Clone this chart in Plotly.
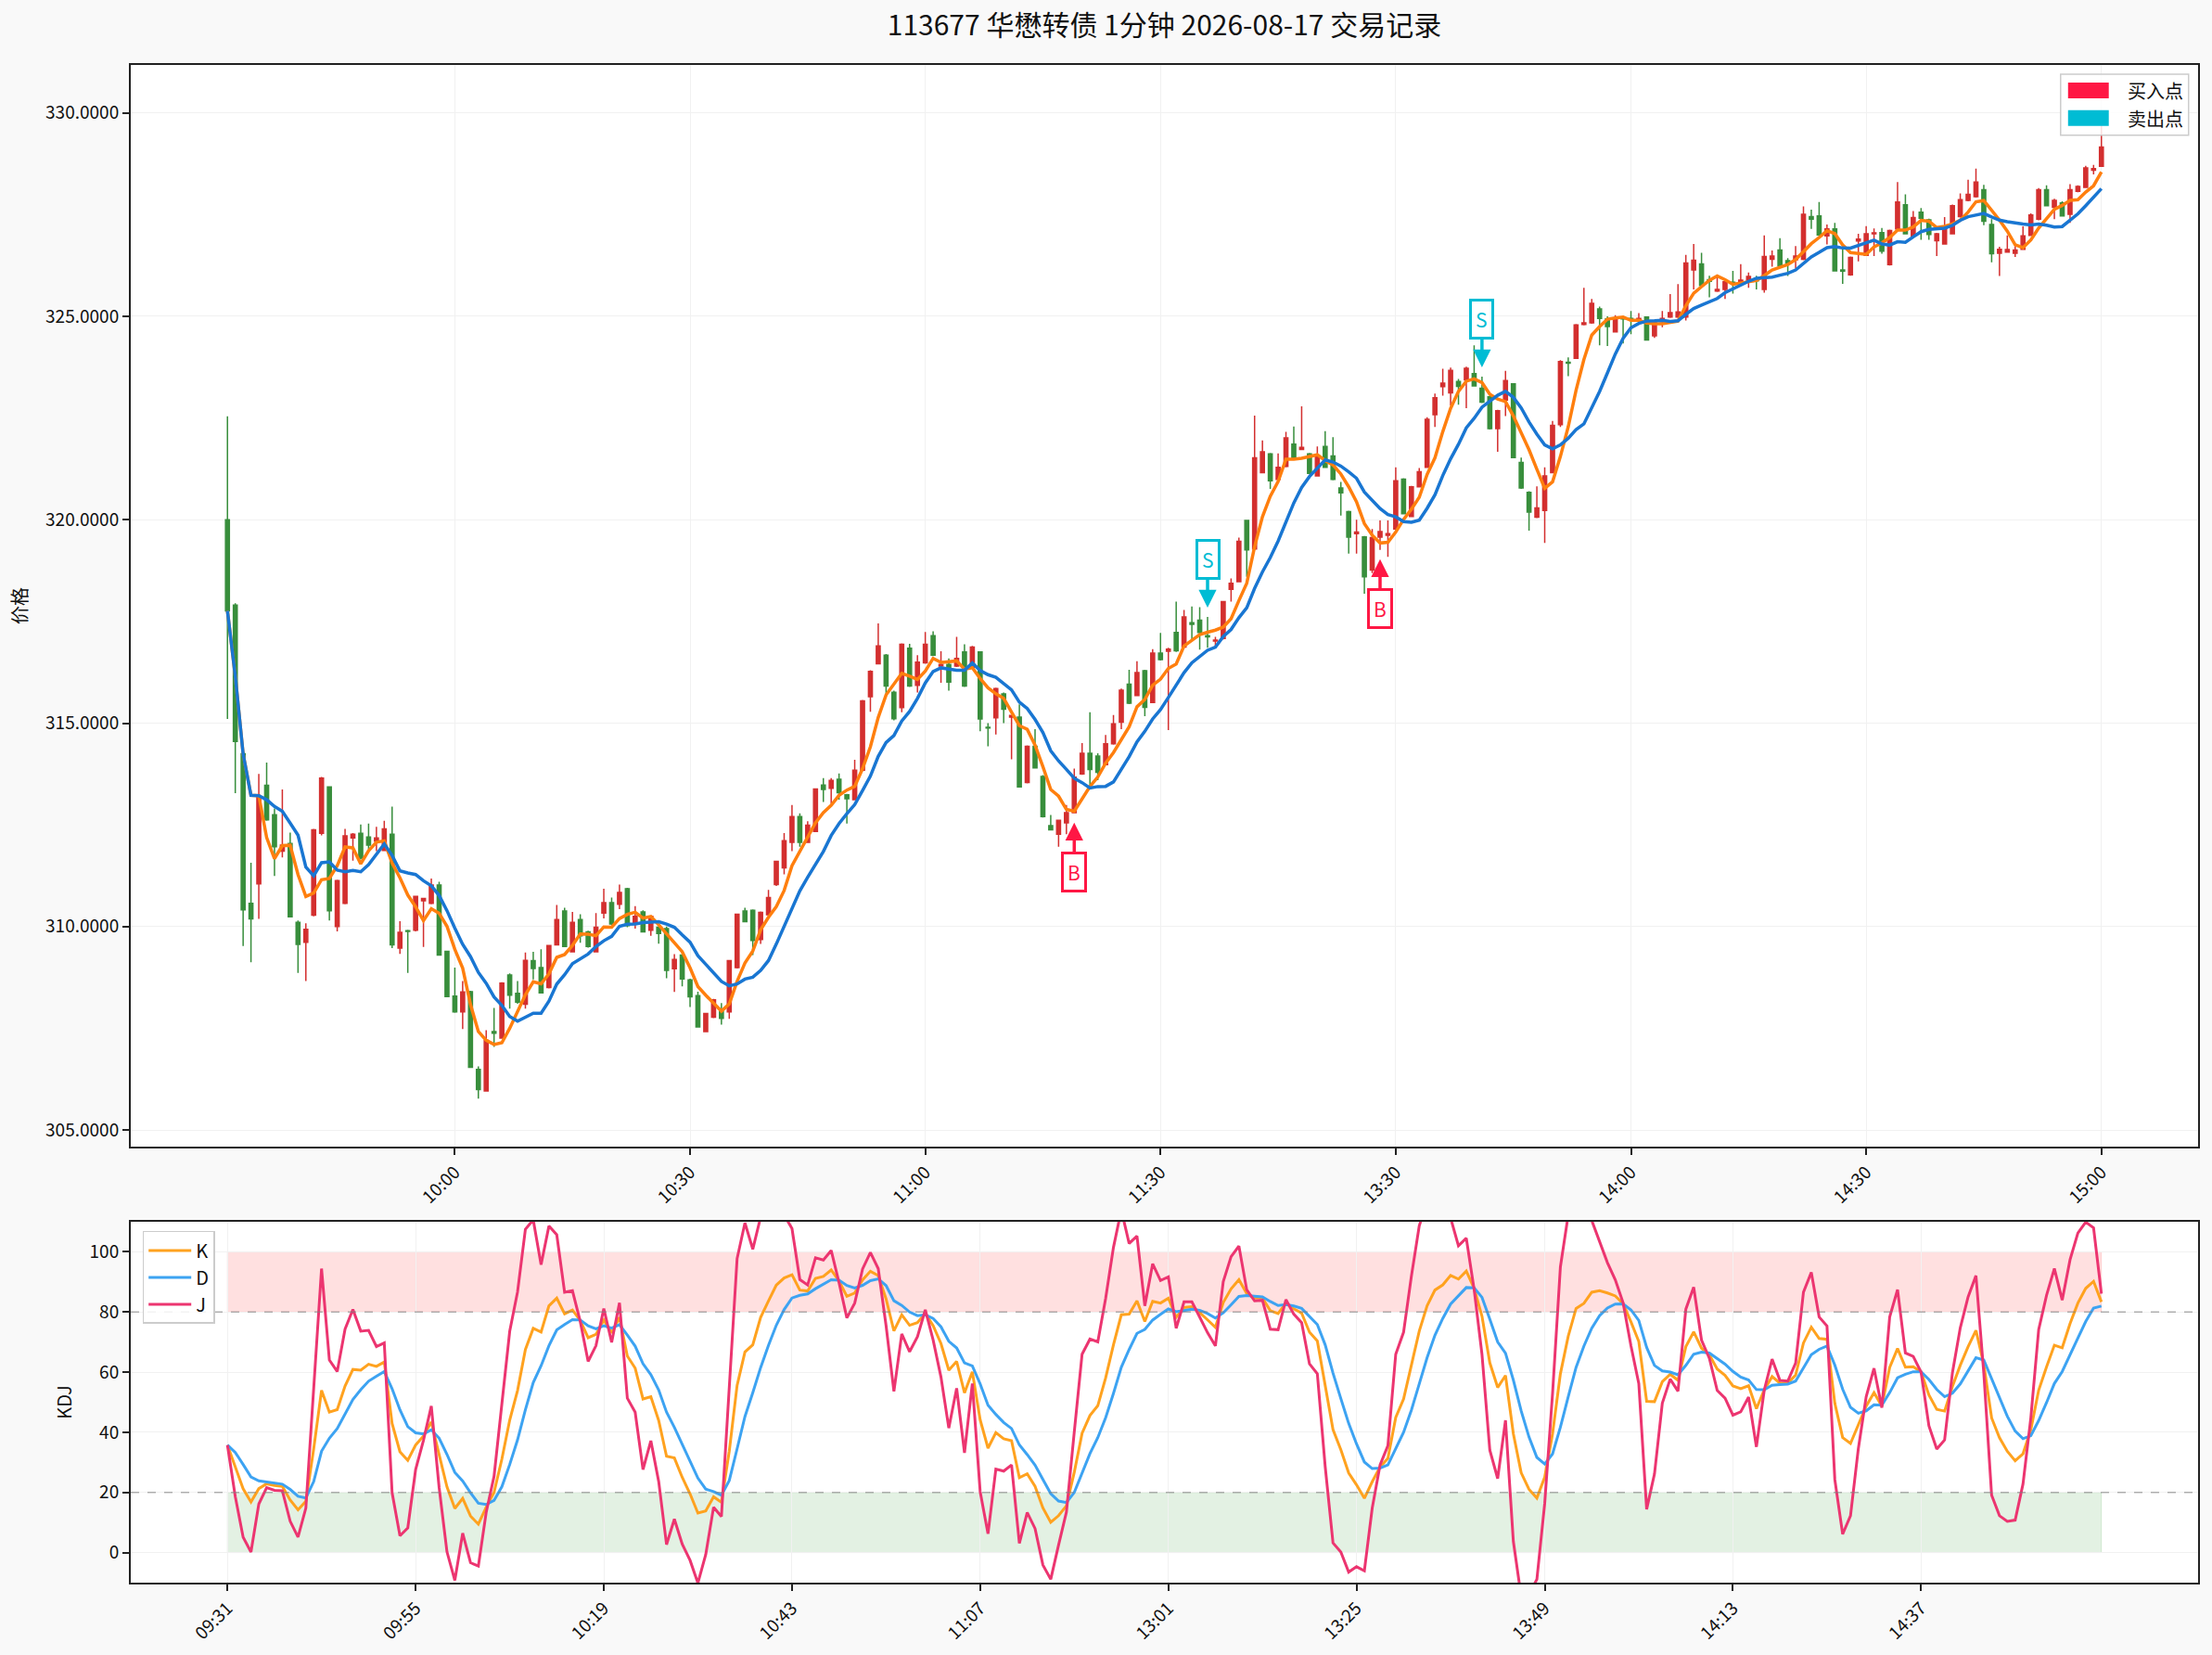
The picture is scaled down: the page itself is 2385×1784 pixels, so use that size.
import pandas as pd
import plotly.graph_objects as go
from plotly.subplots import make_subplots

title = "113677 华懋转债 1分钟 2026-08-17 交易记录"

# 1-minute bars (09:31-11:30, 13:01-15:00)
opens = [
    320.00, 317.90, 314.25, 310.57, 311.05, 313.47, 312.75, 311.85, 312.04, 310.10,
    309.61, 310.28, 312.29, 313.43, 310.00, 310.57, 312.18, 312.29, 312.20, 312.10,
    311.87, 312.27, 309.47, 309.90, 309.91, 310.63, 310.57, 311.02, 309.39, 308.29,
    307.90, 308.40, 306.49, 305.96, 307.42, 307.26, 308.81, 308.36, 308.09, 309.16,
    308.99, 308.50, 309.55, 310.38, 309.38, 310.17, 309.87, 309.38, 310.33, 310.59,
    310.55, 310.93, 310.06, 310.36, 309.91, 309.98, 309.95, 308.96, 309.30, 308.69,
    308.30, 307.42, 307.77, 307.91, 307.90, 308.99, 310.38, 310.40, 309.68, 310.29,
    311.03, 311.44, 312.07, 312.70, 312.07, 312.34, 313.48, 313.40, 313.62, 313.24,
    313.12, 313.84, 315.65, 316.46, 316.67, 315.76, 315.38, 316.84, 315.93, 316.48,
    317.15, 316.40, 316.44, 316.40, 316.75, 316.37, 316.75, 314.90, 315.13, 315.72,
    315.15, 315.15, 313.54, 314.43, 313.69, 312.48, 312.27, 312.55, 312.80, 313.75,
    314.26, 314.19, 313.98, 314.49, 315.02, 315.96, 315.68, 316.29, 315.51, 316.72,
    316.77, 317.23, 316.87, 317.47, 317.53, 317.15, 317.02, 317.08, 318.29, 318.48,
    319.98, 319.28, 321.16, 321.62, 320.99, 321.31, 321.86, 321.73, 321.62, 321.08,
    321.80, 321.57, 320.78, 320.20, 319.66, 319.58, 318.76, 319.57, 319.62, 319.77,
    321.00, 320.08, 320.81, 321.29, 322.58, 323.27, 323.12, 323.40, 323.44, 323.59,
    323.23, 323.02, 322.24, 322.94, 323.34, 321.41, 320.67, 320.06, 320.23, 321.16,
    322.34, 323.87, 323.97, 324.80, 324.84, 325.18, 324.94, 324.62, 324.96, 324.95,
    324.90, 324.98, 324.52, 324.87, 324.98, 324.98, 324.98, 326.14, 326.29, 325.90,
    325.62, 325.66, 325.84, 325.81, 325.85, 325.93, 325.66, 326.40, 326.63, 326.37,
    326.39, 326.40, 327.45, 327.47, 326.98, 327.15, 326.14, 326.02, 326.85, 326.50,
    327.03, 327.06, 326.27, 327.15, 327.74, 326.98, 327.56, 327.37, 326.86, 326.78,
    327.03, 327.45, 327.85, 327.94, 328.11, 327.26, 326.55, 326.58, 326.55, 326.65,
    326.99, 327.39, 328.11, 327.68, 327.79, 327.51, 328.07, 328.17, 328.59, 328.69,
]
highs = [
    322.54, 317.95, 314.25, 311.57, 313.75, 314.03, 312.90, 313.37, 312.31, 310.15,
    310.08, 312.40, 313.68, 313.45, 311.15, 312.40, 312.30, 312.51, 312.53, 312.45,
    312.60, 312.95, 310.13, 309.92, 310.76, 310.70, 311.18, 311.10, 309.40, 308.99,
    308.66, 308.42, 306.56, 307.45, 308.00, 308.63, 308.85, 308.66, 309.36, 309.38,
    309.44, 309.55, 310.53, 310.46, 310.36, 310.30, 309.90, 310.33, 310.93, 310.71,
    311.03, 310.95, 310.50, 310.40, 310.27, 310.00, 310.00, 309.32, 309.32, 308.72,
    308.40, 307.88, 308.22, 308.12, 309.18, 310.32, 310.46, 310.42, 310.37, 310.90,
    311.62, 312.30, 312.99, 312.78, 312.59, 313.40, 313.65, 313.65, 313.76, 313.26,
    314.10, 315.57, 316.30, 317.45, 316.70, 315.80, 316.96, 316.95, 316.67, 317.24,
    317.26, 316.77, 316.59, 317.12, 316.94, 316.90, 316.77, 315.00, 315.87, 315.75,
    315.20, 315.46, 314.45, 314.85, 313.72, 312.74, 312.63, 312.99, 313.88, 314.51,
    315.27, 314.26, 314.71, 315.20, 315.85, 316.31, 316.52, 316.31, 316.82, 317.22,
    316.85, 317.99, 317.78, 317.87, 317.85, 317.61, 317.12, 318.00, 318.56, 319.56,
    320.00, 322.56, 321.95, 321.64, 321.63, 322.16, 322.29, 322.79, 321.64, 321.80,
    322.18, 322.03, 320.93, 320.22, 320.00, 319.60, 319.77, 319.98, 319.98, 321.29,
    321.02, 320.83, 321.27, 322.52, 323.10, 323.71, 323.74, 323.46, 323.76, 324.29,
    323.52, 323.05, 322.70, 323.66, 323.36, 321.53, 320.70, 320.82, 321.29, 322.43,
    323.92, 323.99, 324.81, 325.70, 325.43, 325.24, 325.00, 325.03, 325.01, 325.13,
    325.08, 325.00, 324.90, 325.13, 325.55, 325.79, 326.51, 326.78, 326.56, 326.00,
    325.97, 325.87, 326.12, 326.28, 326.08, 326.00, 326.99, 326.62, 326.92, 326.43,
    326.73, 327.70, 327.62, 327.81, 327.26, 327.30, 326.69, 326.47, 327.03, 327.22,
    327.16, 327.17, 327.13, 328.30, 328.00, 327.59, 327.66, 327.40, 327.05, 327.44,
    327.75, 328.02, 328.36, 328.63, 328.23, 327.39, 326.71, 326.99, 326.73, 327.21,
    327.53, 328.15, 328.22, 327.89, 327.83, 328.25, 328.22, 328.70, 328.72, 329.97,
]
lows = [
    315.10, 313.28, 309.52, 309.12, 310.19, 312.60, 311.24, 311.70, 310.22, 308.86,
    308.66, 310.25, 312.24, 310.15, 309.88, 310.55, 311.62, 311.65, 311.90, 311.85,
    311.85, 309.47, 309.33, 308.86, 309.88, 309.50, 310.55, 309.28, 308.26, 307.88,
    307.48, 306.52, 305.77, 305.94, 307.04, 307.24, 307.98, 308.10, 307.98, 308.70,
    308.35, 308.48, 309.53, 309.50, 309.36, 309.60, 309.48, 309.36, 310.20, 310.04,
    310.43, 309.98, 309.95, 309.85, 309.77, 309.58, 308.73, 308.39, 308.53, 308.02,
    307.52, 307.40, 307.75, 307.59, 307.73, 308.97, 310.10, 309.30, 309.57, 310.27,
    311.00, 311.28, 311.85, 311.96, 312.05, 312.32, 313.06, 313.02, 313.12, 312.53,
    313.10, 313.82, 315.28, 316.44, 315.72, 315.07, 315.27, 315.89, 315.75, 316.46,
    316.65, 315.99, 315.80, 316.38, 315.89, 316.35, 314.80, 314.43, 314.72, 315.00,
    314.11, 313.42, 313.52, 313.88, 312.68, 312.36, 311.96, 312.27, 312.78, 313.73,
    313.46, 313.60, 313.96, 314.47, 314.85, 315.47, 315.66, 315.17, 315.49, 316.54,
    314.83, 316.75, 316.85, 317.02, 316.81, 316.85, 316.90, 317.06, 317.99, 318.46,
    318.60, 319.26, 321.14, 320.76, 320.97, 321.29, 321.50, 321.71, 321.12, 321.06,
    321.27, 320.97, 320.10, 319.17, 319.17, 318.18, 318.69, 319.26, 319.09, 319.75,
    320.13, 320.06, 320.79, 321.27, 322.28, 323.05, 322.81, 322.83, 322.74, 323.27,
    322.87, 322.22, 321.67, 322.55, 321.51, 320.76, 319.73, 320.04, 319.43, 321.14,
    322.28, 323.53, 323.95, 324.78, 324.82, 324.29, 324.27, 324.60, 324.33, 324.56,
    324.88, 324.40, 324.47, 324.73, 324.96, 324.96, 324.90, 325.66, 325.74, 325.47,
    325.60, 325.43, 325.56, 325.79, 325.70, 325.66, 325.58, 326.22, 326.22, 325.99,
    326.18, 326.38, 327.15, 326.98, 326.77, 326.10, 325.80, 326.00, 326.35, 326.48,
    326.48, 326.54, 326.25, 327.13, 327.01, 326.96, 326.88, 326.88, 326.48, 326.76,
    327.01, 327.43, 327.83, 327.92, 327.24, 326.33, 325.99, 326.56, 326.46, 326.63,
    326.97, 327.36, 327.70, 327.39, 327.45, 327.30, 328.05, 328.15, 328.49, 328.67,
]
closes = [
    317.76, 314.55, 310.41, 310.19, 313.17, 312.62, 311.96, 312.00, 310.24, 309.56,
    309.93, 312.38, 313.65, 310.39, 311.13, 312.23, 312.27, 311.68, 312.00, 312.18,
    312.40, 309.55, 309.86, 309.88, 310.74, 310.69, 311.02, 309.30, 308.28, 307.90,
    308.39, 306.54, 305.99, 307.20, 307.38, 308.61, 308.31, 308.14, 309.17, 308.97,
    308.37, 309.53, 310.17, 309.51, 310.10, 309.77, 309.51, 309.98, 310.59, 310.06,
    310.84, 310.02, 310.25, 309.87, 310.25, 309.83, 308.92, 309.19, 308.71, 308.27,
    307.53, 307.86, 308.20, 307.74, 309.16, 310.30, 310.12, 309.66, 310.35, 310.71,
    311.60, 312.11, 312.70, 312.07, 312.49, 313.38, 313.37, 313.59, 313.29, 313.14,
    313.84, 315.55, 316.27, 316.90, 315.91, 315.11, 316.94, 315.91, 316.50, 316.94,
    316.67, 316.44, 316.01, 316.59, 315.91, 316.87, 315.10, 314.88, 315.85, 315.34,
    315.19, 313.43, 314.43, 313.90, 312.70, 312.38, 312.61, 312.80, 313.67, 314.26,
    313.86, 313.79, 314.49, 314.98, 315.81, 315.49, 316.24, 315.39, 316.72, 316.56,
    316.82, 316.78, 317.61, 317.43, 317.23, 317.12, 317.04, 317.99, 318.44, 319.47,
    319.26, 321.52, 321.67, 320.96, 321.29, 322.01, 321.52, 321.78, 321.14, 321.54,
    321.29, 320.99, 320.66, 319.57, 319.70, 318.60, 319.56, 319.71, 319.66, 320.96,
    320.15, 320.81, 321.18, 322.47, 323.00, 323.36, 323.67, 323.28, 323.72, 323.29,
    322.89, 322.24, 322.68, 323.42, 321.53, 320.78, 320.19, 320.29, 321.08, 322.32,
    323.89, 323.85, 324.79, 324.84, 325.32, 324.95, 324.75, 324.94, 324.94, 324.93,
    324.95, 324.42, 324.85, 324.95, 325.09, 325.11, 326.31, 326.38, 325.76, 325.86,
    325.66, 325.85, 325.81, 325.89, 325.98, 325.87, 326.47, 326.48, 326.24, 326.31,
    326.48, 327.51, 327.39, 327.00, 327.15, 326.12, 326.11, 326.45, 326.90, 327.03,
    327.05, 326.60, 327.11, 327.81, 327.03, 327.43, 327.41, 327.01, 327.03, 327.19,
    327.72, 327.87, 328.00, 328.30, 327.34, 326.54, 326.65, 326.64, 326.63, 326.98,
    327.49, 328.11, 327.72, 327.85, 327.47, 328.11, 328.19, 328.65, 328.63, 329.16,
]

buy_idx = [108, 147]
sell_idx = [125, 160]

kdj_levels = (20, 80)

UP = "#D32F2F"
DOWN = "#388E3C"
BUY = "#FF1744"
SELL = "#00BCD4"
BG = "#F9F9F9"
FONT = "Noto Sans CJK SC, Noto Sans, sans-serif"

am = pd.date_range("2026-08-17 09:31", "2026-08-17 11:30", freq="1min")
pm = pd.date_range("2026-08-17 13:01", "2026-08-17 15:00", freq="1min")
times = list(am.append(pm).strftime("%H:%M"))

df = pd.DataFrame({"open": opens, "high": highs, "low": lows, "close": closes})
df["ma5"] = df.close.rolling(5, min_periods=1).mean()
df["ma10"] = df.close.rolling(10, min_periods=1).mean()

low9 = df.low.rolling(9, min_periods=1).min()
high9 = df.high.rolling(9, min_periods=1).max()
rsv = (df.close - low9) / (high9 - low9) * 100
df["k"] = rsv.ewm(com=2, adjust=False).mean()
df["d"] = df.k.ewm(com=2, adjust=False).mean()
df["j"] = 3 * df.k - 2 * df.d

idx = list(range(len(df)))
n = len(df)

fig = make_subplots(rows=2, cols=1)

fig.add_trace(go.Candlestick(
    x=idx, open=df.open, high=df.high, low=df.low, close=df.close,
    increasing=dict(line=dict(color=UP, width=1.5), fillcolor=UP),
    decreasing=dict(line=dict(color=DOWN, width=1.5), fillcolor=DOWN),
    whiskerwidth=0, showlegend=False, hoverinfo="skip"), row=1, col=1)
fig.add_trace(go.Scatter(x=idx, y=df.ma5, mode="lines", showlegend=False,
                         line=dict(color="#FF7F0E", width=3.5)), row=1, col=1)
fig.add_trace(go.Scatter(x=idx, y=df.ma10, mode="lines", showlegend=False,
                         line=dict(color="#1976D2", width=3.5)), row=1, col=1)

fig.add_trace(go.Scatter(x=idx, y=df.k, mode="lines", name="K",
                         line=dict(color="#FFA21F", width=3)), row=2, col=1)
fig.add_trace(go.Scatter(x=idx, y=df.d, mode="lines", name="D",
                         line=dict(color="#3DA3F2", width=3)), row=2, col=1)
fig.add_trace(go.Scatter(x=idx, y=df.j, mode="lines", name="J",
                         line=dict(color="#EC3570", width=3)), row=2, col=1)

# buy / sell markers
for i in buy_idx:
    fig.add_annotation(x=i, y=df.low[i], xref="x", yref="y", text="B",
                       showarrow=True, ax=0, ay=63, standoff=10,
                       arrowhead=2, arrowsize=1.1, arrowwidth=3.5, arrowcolor=BUY,
                       font=dict(size=21, color=BUY, family=FONT),
                       bgcolor="white", bordercolor=BUY, borderwidth=3, borderpad=4)
for i in sell_idx:
    fig.add_annotation(x=i, y=df.high[i], xref="x", yref="y", text="S",
                       showarrow=True, ax=0, ay=-62, standoff=10,
                       arrowhead=2, arrowsize=1.1, arrowwidth=3.5, arrowcolor=SELL,
                       font=dict(size=21, color=SELL, family=FONT),
                       bgcolor="white", bordercolor=SELL, borderwidth=3, borderpad=4)

# legend for buy / sell points
fig.add_shape(type="rect", xref="x domain", yref="y domain",
              x0=0.9335, x1=0.9954, y0=0.935, y1=0.9914,
              fillcolor="rgba(255,255,255,0.85)", line=dict(color="#CCCCCC", width=1.5))
for label, color, y0, y1 in [("买入点", BUY, 0.9692, 0.9838), ("卖出点", SELL, 0.9436, 0.9581)]:
    fig.add_shape(type="rect", xref="x domain", yref="y domain",
                  x0=0.9371, x1=0.9568, y0=y0, y1=y1, fillcolor=color, line=dict(width=0))
    fig.add_annotation(x=0.9649, y=(y0 + y1) / 2, xref="x domain", yref="y domain",
                       text=label, showarrow=False, xanchor="left", yanchor="middle",
                       font=dict(size=20, color="#111111", family=FONT))

# KDJ bands
fig.add_shape(type="rect", xref="x2", yref="y2", x0=0, x1=n - 1,
              y0=kdj_levels[1], y1=100, fillcolor="rgba(255,0,0,0.12)",
              line=dict(width=1, color="rgba(255,0,0,0.12)"), layer="below")
fig.add_shape(type="rect", xref="x2", yref="y2", x0=0, x1=n - 1,
              y0=0, y1=kdj_levels[0], fillcolor="rgba(0,128,0,0.11)",
              line=dict(width=1, color="rgba(0,128,0,0.12)"), layer="below")
for lvl in kdj_levels:
    fig.add_shape(type="line", xref="x2 domain", yref="y2", x0=0, x1=1, y0=lvl, y1=lvl,
                  line=dict(color="rgba(128,128,128,0.6)", width=1.5, dash="dash"))

axis_style = dict(showline=True, mirror=True, linecolor="#222222", linewidth=2,
                  ticks="outside", ticklen=7, tickcolor="#222222", tickwidth=1.5,
                  showgrid=True, gridcolor="#F1F1F1", gridwidth=1, zeroline=False,
                  tickfont=dict(size=19, color="#111111", family=FONT))

top_ticks = list(range(29, n, 30))
bottom_ticks = list(range(0, n, 24))

fig.update_xaxes(axis_style)
fig.update_yaxes(axis_style)
fig.update_layout(
    width=2385, height=1784,
    margin=dict(l=141, r=15, t=70, b=73),
    paper_bgcolor=BG, plot_bgcolor="white",
    font=dict(family=FONT, color="#111111"),
    title=dict(text=title, xref="paper", x=0.5, xanchor="center", y=0.9846, yanchor="middle",
               font=dict(size=30, color="#111111", family=FONT)),
    xaxis=dict(range=[-12.33, 251.33], tickvals=top_ticks,
               ticktext=[times[i] for i in top_ticks], tickangle=-45,
               rangeslider=dict(visible=False)),
    yaxis=dict(domain=[0.2873, 1], range=[304.59, 331.18], dtick=5, tickformat=".4f",
               title=dict(text="价格", font=dict(size=20), standoff=14)),
    xaxis2=dict(range=[-12.33, 251.33], tickvals=bottom_ticks,
                ticktext=[times[i] for i in bottom_ticks], tickangle=-45),
    yaxis2=dict(domain=[0, 0.2378], range=[-10, 110], tickvals=[0, 20, 40, 60, 80, 100],
                title=dict(text="KDJ", font=dict(size=20), standoff=14)),
    legend=dict(x=0.0057, y=0.2317, xanchor="left", yanchor="top", itemwidth=46,
                bgcolor="rgba(255,255,255,0.85)", bordercolor="#CCCCCC", borderwidth=1.5,
                font=dict(size=20, family=FONT)),
    hovermode=False,
)

fig.write_html(
    "out.html",
    config={"displayModeBar": False},
    post_script="document.body.style.margin='0';"
                "document.body.style.overflow='hidden';"
                "document.body.style.background='" + BG + "';",
)
